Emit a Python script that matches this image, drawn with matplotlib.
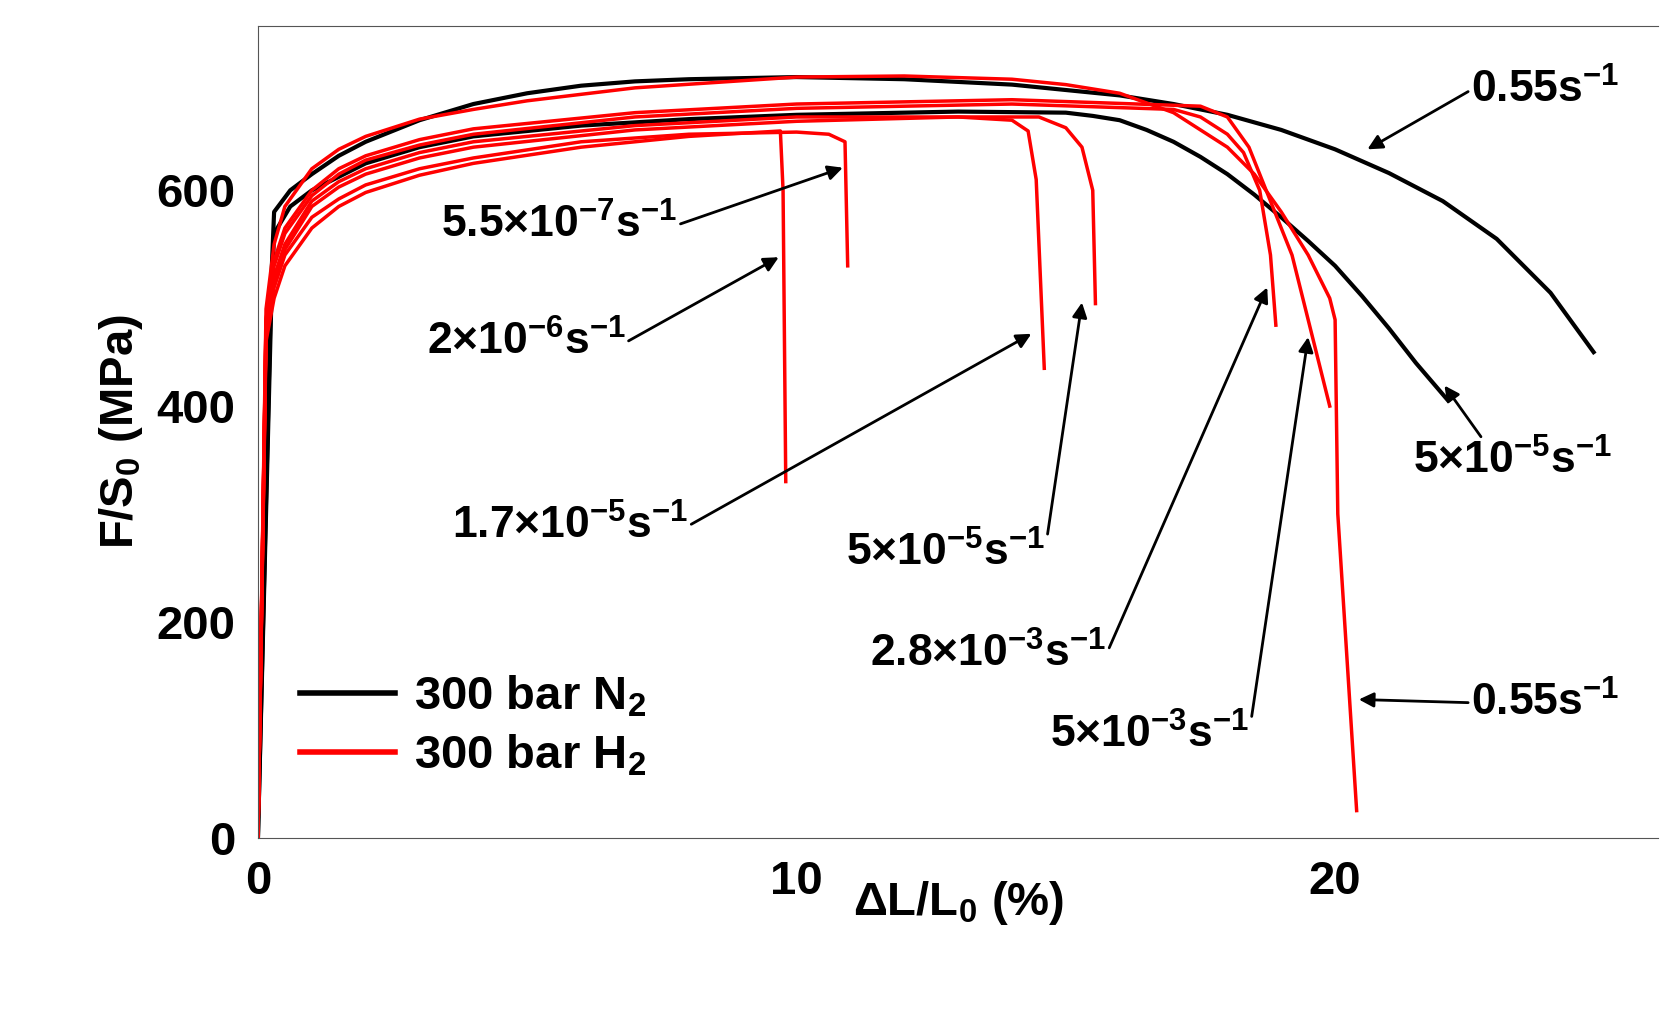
import matplotlib
matplotlib.use('Agg')
import matplotlib.pyplot as plt

plt.rcParams['font.family'] = ['Liberation Sans', 'DejaVu Sans']
plt.rcParams['font.weight'] = 'bold'
plt.rcParams['mathtext.fontset'] = 'custom'
plt.rcParams['mathtext.rm'] = 'Liberation Sans:bold'
plt.rcParams['mathtext.bf'] = 'Liberation Sans:bold'
plt.rcParams['mathtext.default'] = 'bf'

# black curves: 300 bar N2
n2_fast_x = [0, 0.25, 0.3, 0.6, 1, 1.5, 2, 3, 4, 5, 6, 7, 8, 10, 12, 14, 16, 17, 18, 19, 20, 21, 22, 23, 24, 24.8]
n2_fast_y = [0, 520, 580, 600, 615, 632, 645, 665, 680, 690, 697, 701, 703, 705, 703, 698, 688, 680, 670, 656, 638, 616, 590, 555, 505, 450]
n2_slow_x = [0, 0.25, 0.3, 0.6, 1, 2, 3, 4, 6, 8, 10, 13, 15, 15.5, 16, 16.5, 17, 17.5, 18, 18.5, 19, 19.5, 20, 20.5, 21, 21.5, 22.1]
n2_slow_y = [0, 500, 560, 585, 600, 625, 640, 650, 660, 666, 670, 673, 672, 669, 665, 656, 645, 631, 615, 596, 575, 553, 530, 502, 472, 440, 405]

# red curves: 300 bar H2
h2_curves = [
    ([0, 0.15, 0.3, 0.5, 1, 1.5, 2, 3, 4, 6, 8, 10, 10.6, 10.9, 10.95], [0, 470, 510, 540, 575, 592, 605, 620, 630, 645, 652, 654, 652, 645, 530]),
    ([0, 0.15, 0.3, 0.5, 1, 1.5, 2, 3, 4, 6, 8, 9.7, 9.75, 9.8], [0, 460, 500, 530, 565, 585, 598, 614, 625, 640, 650, 655, 600, 330]),
    ([0, 0.15, 0.3, 0.5, 1, 1.5, 2, 3, 4, 7, 10, 13, 14, 14.3, 14.45, 14.6], [0, 470, 515, 545, 585, 603, 615, 630, 640, 656, 664, 668, 665, 655, 610, 435]),
    ([0, 0.15, 0.3, 0.5, 1, 1.5, 2, 3, 4, 7, 10, 14.5, 15, 15.3, 15.5, 15.55], [0, 475, 520, 550, 590, 608, 620, 635, 645, 660, 668, 668, 658, 640, 600, 495]),
    ([0, 0.15, 0.3, 0.5, 1, 1.5, 2, 3, 4, 7, 10, 14, 17, 17.5, 18, 18.3, 18.6, 18.8, 18.9], [0, 480, 530, 560, 595, 615, 628, 642, 652, 668, 676, 680, 675, 668, 652, 635, 600, 540, 475]),
    ([0, 0.15, 0.3, 0.5, 1, 1.5, 2, 3, 4, 7, 10, 14, 17.5, 18, 18.4, 18.8, 19.2, 19.6, 19.9], [0, 480, 535, 565, 600, 620, 632, 647, 657, 672, 680, 684, 678, 668, 640, 590, 540, 460, 400]),
    ([0, 0.15, 0.3, 0.5, 1, 1.5, 2, 3, 4, 5, 7, 10, 12, 14, 15, 16, 17, 18, 18.5, 19, 19.5, 19.9, 20.0, 20.05, 20.4],
     [0, 490, 550, 585, 620, 638, 650, 666, 675, 683, 695, 705, 706, 703, 698, 690, 672, 640, 615, 580, 540, 500, 480, 300, 25]),
]

# (text, text xy, arrow tip xy)
labels = [
    (r'0.55s$^{-1}$', (23.9, 693), (20.6, 638)),
    (r'5.5×10$^{-7}$s$^{-1}$', (5.6, 568), (10.86, 621)),
    (r'2×10$^{-6}$s$^{-1}$', (4.98, 459), (9.67, 538)),
    (r'1.7×10$^{-5}$s$^{-1}$', (5.8, 289), (14.36, 467)),
    (r'5×10$^{-5}$s$^{-1}$', (12.76, 264), (15.3, 496)),
    (r'2.8×10$^{-3}$s$^{-1}$', (13.56, 170), (18.74, 510)),
    (r'5×10$^{-3}$s$^{-1}$', (16.55, 95), (19.5, 464)),
    (r'0.55s$^{-1}$', (23.9, 125), (20.44, 128)),
    (r'5×10$^{-5}$s$^{-1}$', (23.3, 349), (22.03, 419)),
]

fig = plt.figure(figsize=(16.75, 10.14), dpi=100)
ax = fig.add_axes([0.154, 0.174, 0.836, 0.8])

ax.plot(n2_fast_x, n2_fast_y, color='black', lw=3, label='300 bar N$_2$')
ax.plot(n2_slow_x, n2_slow_y, color='black', lw=3)
for i, (x, y) in enumerate(h2_curves):
    ax.plot(x, y, color='red', lw=2.5, label='300 bar H$_2$' if i == 0 else None)

for txt, xy_t, xy_a in labels:
    if xy_t[0] < xy_a[0] - 1:
        rp = (1, 0.5)
    elif xy_t[0] > xy_a[0] + 1.5:
        rp = (0, 0.5)
    else:
        rp = (0.35, 1)
    ax.annotate(txt, xy=xy_a, xytext=xy_t, ha='center', va='center', fontsize=32,
                fontweight='bold',
                arrowprops=dict(arrowstyle='-|>', color='black', lw=2, mutation_scale=22,
                                shrinkA=0, shrinkB=0, relpos=rp))

ax.set_xlim(0, 26)
ax.set_ylim(0, 752)
ax.set_xticks([0, 10, 20])
ax.set_yticks([0, 200, 400, 600])
ax.tick_params(labelsize=34, length=0, pad=16)
ax.set_xlabel('ΔL/L$_0$ (%)', fontsize=34, fontweight='bold', labelpad=-18)
ax.set_ylabel('F/S$_0$ (MPa)', fontsize=34, fontweight='bold', labelpad=8)
ax.spines['right'].set_visible(False)
for s in ['left', 'bottom', 'top']:
    ax.spines[s].set_color('#555555')
leg = ax.legend(loc='lower left', bbox_to_anchor=(0.0, 0.02), frameon=False, fontsize=34,
                handlelength=2.0, handletextpad=0.4, labelspacing=0.3)
for line in leg.get_lines():
    line.set_linewidth(4)

fig.savefig('out.png', dpi=100)
